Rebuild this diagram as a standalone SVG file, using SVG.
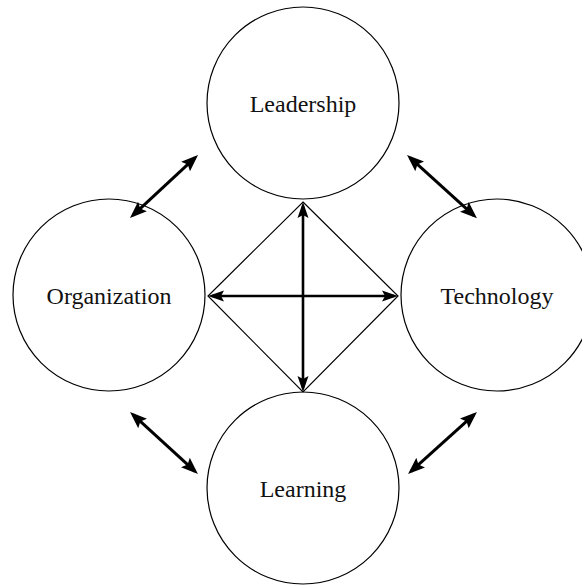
<svg xmlns="http://www.w3.org/2000/svg" width="582" height="586" viewBox="0 0 582 586">
<style>
.node circle{fill:#fff;stroke:#000;stroke-width:1.2}
.node text{font-family:"Liberation Serif","Times New Roman",serif;font-size:24px;fill:#111;text-anchor:middle}
.dia{fill:none;stroke:#000;stroke-width:1.2}
.arr{fill:none;stroke:#000;stroke-width:2.6;marker-start:url(#ah);marker-end:url(#ah)}
.arrd{fill:none;stroke:#000;stroke-width:3;marker-start:url(#ah2);marker-end:url(#ah2)}
</style>
<defs>
<marker id="ah" markerUnits="userSpaceOnUse" viewBox="0 0 16 12" markerWidth="16" markerHeight="12" refX="12" refY="6" orient="auto-start-reverse">
<path d="M0,0.5 L16,6 L0,11.5 L3,6 Z" fill="#000"/>
</marker>
<marker id="ah2" markerUnits="userSpaceOnUse" viewBox="0 0 17 14" markerWidth="17" markerHeight="14" refX="13" refY="7" orient="auto-start-reverse">
<path d="M0,0.5 L17,7 L0,13.5 L3,7 Z" fill="#000"/>
</marker>
</defs>
<g id="leadership" class="node"><circle cx="303" cy="103" r="96"/><text x="303" y="112">Leadership</text></g>
<g id="organization" class="node"><circle cx="109" cy="295" r="96"/><text x="109" y="304">Organization</text></g>
<g id="technology" class="node"><circle cx="497" cy="295" r="96"/><text x="497" y="304">Technology</text></g>
<g id="learning" class="node"><circle cx="303" cy="488" r="96"/><text x="303" y="497">Learning</text></g>
<g id="connectors">
<path class="dia" d="M303,202 L398,296 L303,392 L208,296 Z"/>
<path class="arr" d="M303,206 L303,388"/>
<path class="arr" d="M212,296 L394,296"/>
<path class="arrd" d="M195.1,157.7 L132.9,215.3"/>
<path class="arrd" d="M410,157.7 L474,215.6"/>
<path class="arrd" d="M133,414.7 L195,471.3"/>
<path class="arrd" d="M411,471.3 L474,414.7"/>
</g>
</svg>
